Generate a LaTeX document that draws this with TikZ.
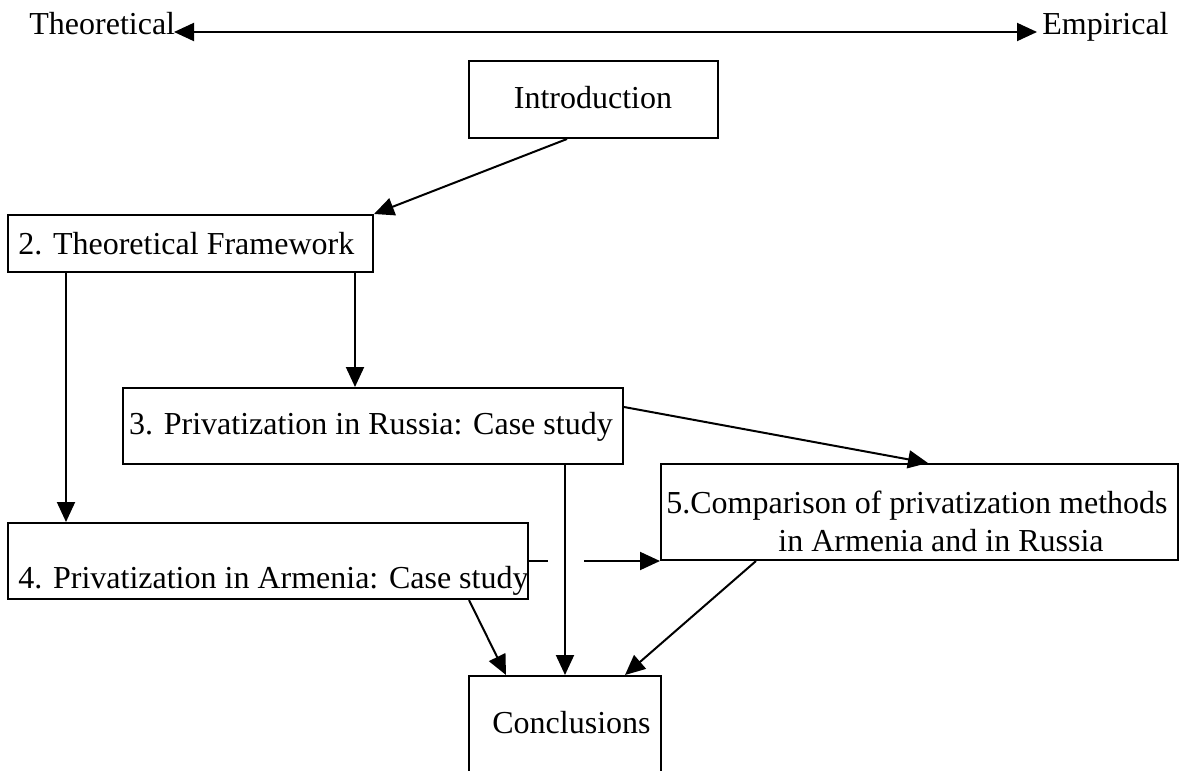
\documentclass[tikz,border=0pt]{standalone}
\usepackage{fontspec}
\setmainfont{Liberation Serif}
\usetikzlibrary{arrows.meta}
\begin{document}
\begin{tikzpicture}[x=0.5pt,y=-0.5pt,
  font=\fontsize{16}{19}\selectfont,
  box/.style={draw, line width=1pt, inner sep=0pt, rectangle},
  txt/.style={inner sep=0pt, anchor=base},
  txtw/.style={inner sep=0pt, anchor=base west},
  tip/.style={Triangle[length=10pt,width=9pt]},
  arr/.style={line width=1pt, -{Triangle[length=10pt,width=9pt]}},
  ln/.style={line width=1pt}]
\useasboundingbox (0,0) rectangle (1180,771);
\clip (0,0) rectangle (1180,771);

% boxes
\node[box, minimum width=124.5pt, minimum height=38.5pt] (intro) at (593.5,99.5) {};
\node[box, minimum width=182.5pt, minimum height=28.5pt] (tf) at (190.5,243.5) {};
\node[box, minimum width=250pt, minimum height=38pt] (b3) at (373,426) {};
\node[box, minimum width=260pt, minimum height=38pt] (b4) at (268,561) {};
\node[box, minimum width=258.5pt, minimum height=48pt] (b5) at (919.5,512) {};
\node[box, minimum width=96pt, minimum height=62pt] (conc) at (565,738) {};

% texts
\node[txtw] (theo) at (29,34) {Theoretical};
\node[txtw] (emp) at (1042,34) {Empirical};
\node[txt] (tintro) at (593,108) {Introduction};
\node[txtw] (ttf) at (18,254) {2. Theoretical Framework};
\node[txt] (tb3) at (371,434) {3. Privatization in Russia: Case study};
\node[txtw] (tb4) at (18,588) {4. Privatization in Armenia: Case study};
\node[txt] (tb5a) at (917,513) {5.Comparison of privatization methods};
\node[txt] (tb5b) at (941,551) {in Armenia and in Russia};
\node[txtw] (tconc) at (492,733) {Conclusions};

% top axis
\coordinate (tl) at (174,32);
\coordinate (tr) at (1037,32);
\draw[line width=1pt, {Triangle[length=10pt,width=9pt]}-{Triangle[length=10pt,width=9pt]}] (tl) -- (tr);

% connectors
\draw[arr] ([xshift=-13.25pt]intro.south) -- (tf.north east);
\draw[arr] ([xshift=-9.5pt]tf.south east) -- ([xshift=-9.5pt]tf.south east |- b3.north);
\draw[arr] ([xshift=29.5pt]tf.south west) -- ([xshift=29.5pt]tf.south west |- b4.north);
\draw[arr] (b3.south -| conc.north) -- (conc.north);
\draw[arr] ([yshift=9.5pt]b3.east) -- ([xshift=4.25pt]b5.north);
\draw[ln] (b4.east |- b5.south west) -- ++(19,0);
\draw[arr] ([xshift=-38pt]b5.south west) -- (b5.south west);
\draw[arr] ([xshift=100.5pt]b4.south) -- ([xshift=19pt]conc.north west);
\draw[arr] ([xshift=48pt]b5.south west) -- ([xshift=-18.5pt]conc.north east);
\end{tikzpicture}
\end{document}
